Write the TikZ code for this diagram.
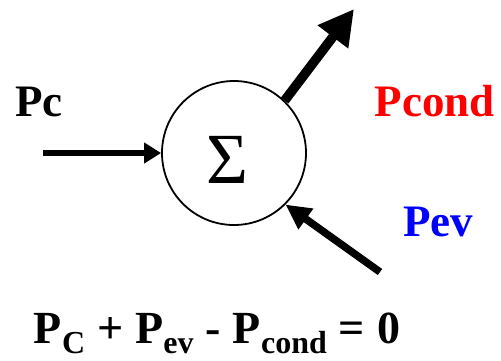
\documentclass[tikz,border=0pt]{standalone}
\usepackage{fontspec}
\setmainfont{Liberation Serif}
\usetikzlibrary{arrows.meta}
\definecolor{pred}{RGB}{255,0,0}
\definecolor{pblue}{RGB}{0,0,255}
\newcommand{\sbx}[1]{\raisebox{-0.22em}{\fontsize{32}{32}\selectfont #1}}
\newcommand{\gp}{\hspace{12pt}}
\tikzset{
  lbl/.style={font=\fontsize{45}{54}\selectfont\bfseries, inner sep=0pt},
}
\begin{document}
\begin{tikzpicture}[x=1pt,y=-1pt]
\useasboundingbox (0,0) rectangle (501,360);
\node[circle, draw, line width=1.8pt, minimum size=144pt, inner sep=0pt] (sum) at (234,153) {};
\node[inner sep=0pt, font=\fontsize{72}{80}\selectfont] (sig) at (227,160) {Σ};
\node[lbl, anchor=base] (pc) at (39,116) {Pc};
\node[lbl, anchor=base, text=pred] (pcond) at (435,116) {Pcond};
\node[lbl, anchor=base, text=pblue] (pev) at (438,236) {Pev};
\node[lbl, anchor=base, font=\fontsize{46}{54}\selectfont\bfseries] (eq) at (217,343) {P\sbx{C}\gp+\gp P\sbx{ev}\gp-\gp P\sbx{cond}\gp=\gp 0};
\coordinate (inTail) at (43,153);
\coordinate (outTip) at (354,9);
\coordinate (evTail) at (380,272);
\draw[line width=6pt, -{Triangle[length=17pt,width=20pt]}] (inTail) -- (sum.west);
\draw[line width=9.5pt, -{Triangle[length=35pt,width=36pt]}] (sum.46) -- (outTip);
\draw[line width=7.5pt, -{Triangle[length=25pt,width=24pt]}] (evTail) -- (sum.-45);
\end{tikzpicture}
\end{document}
